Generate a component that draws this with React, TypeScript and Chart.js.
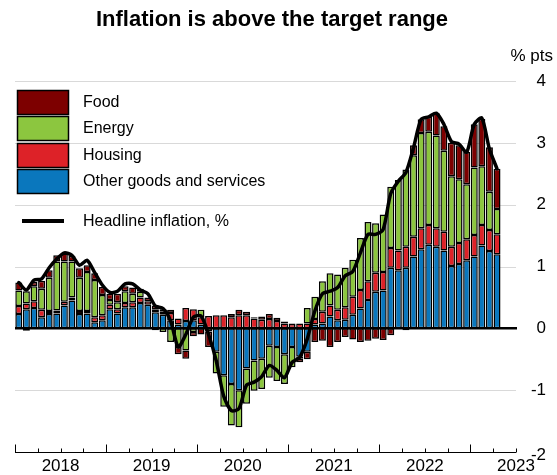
import { useEffect, useRef } from "react";
import { Chart, registerables } from "chart.js";

Chart.register(...registerables);

// Monthly observations, Jan 2018 – Apr 2023 (axis runs to Jun 2023)
const axisYears = [2018, 2019, 2020, 2021, 2022, 2023];
const yearLabels = ["2018", "2019", "2020", "2021", "2022", "2023"];
const yTickValues = [4, 3, 2, 1, 0, -1, -2];
const yTickLabels = ["4", "3", "2", "1", "0", "-1", "-2"];

const otherGoods = [
  0.23, 0.31, 0.33, 0.18, 0.23, 0.24, 0.37, 0.45, 0.23, 0.24, 0.10, 0.13,
  0.31, 0.24, 0.34, 0.34, 0.41, 0.38, 0.26, 0.22, 0.13, 0.06, 0.12, 0.13,
  0.06, 0.0, -0.38, -0.76, -0.9, -1.0, -0.65, -0.52, -0.49, -0.28, -0.3, -0.42,
  -0.3, -0.46, -0.38, 0.06, 0.08, 0.19, 0.13, 0.14, 0.22, 0.32, 0.46, 0.59,
  0.61, 0.98, 0.94, 0.98, 1.16, 1.28, 1.35, 1.32, 1.26, 1.01, 1.04, 1.1,
  1.16, 1.34, 1.25, 1.2,
];
const housing = [
  0.13, 0.09, 0.11, 0.12, 0.05, 0.05, 0.06, 0.05, 0.05, 0.04, 0.08, 0.08,
  0.07, 0.07, 0.07, 0.08, 0.09, 0.06, 0.05, 0.05, 0.12, 0.10, 0.21, 0.18,
  0.12, 0.20, 0.21, 0.21, 0.18, 0.21, 0.21, 0.16, 0.14, 0.15, 0.12, 0.08,
  0.07, 0.08, 0.08, 0.09, 0.19, 0.18, 0.17, 0.2, 0.29, 0.3, 0.3, 0.31,
  0.3, 0.32, 0.32, 0.34, 0.32, 0.34, 0.32, 0.3, 0.3, 0.31, 0.34, 0.34,
  0.35, 0.33, 0.34, 0.32,
];
const energy = [
  0.25, 0.2, 0.24, 0.34, 0.54, 0.79, 0.65, 0.58, 0.54, 0.63, 0.60, 0.33,
  0.08, 0.11, 0.19, 0.14, 0.09, 0.0, -0.03, -0.06, -0.22, -0.30, -0.36, -0.06,
  0.12, -0.05, -0.35, -0.51, -0.67, -0.6, -0.57, -0.49, -0.49, -0.52, -0.55, -0.48,
  -0.33, -0.03, 0.25, 0.36, 0.49, 0.52, 0.57, 0.64, 0.6, 0.84, 0.96, 0.8,
  0.93, 0.99, 1.14, 1.25, 1.32, 1.54, 1.51, 1.5, 1.31, 1.14, 1.03, 0.89,
  1.09, 0.95, 0.62, 0.41,
];
const food = [
  0.13, -0.04, 0.07, 0.13, 0.12, 0.10, 0.13, 0.09, 0.15, 0.11, 0.11, 0.13,
  0.1, 0.14, 0.08, 0.1, 0.05, 0.06, 0.06, 0.04, 0.05, -0.12, -0.13, -0.07,
  -0.1, -0.25, 0.0, 0.0, 0.05, 0.09, 0.06, 0.02, 0.05, 0.08, 0.05, 0.03,
  0.01, -0.06, -0.12, -0.22, -0.2, -0.3, -0.22, -0.14, -0.18, -0.22, -0.2, -0.17,
  -0.19, -0.11, 0.0, -0.03, 0.16, 0.22, 0.24, 0.36, 0.4, 0.54, 0.55, 0.52,
  0.7, 0.77, 0.72, 0.65,
];
const headline = [
  0.74, 0.62, 0.78, 0.8, 0.98, 1.12, 1.22, 1.18, 1.02, 1.1, 0.9, 0.7,
  0.58, 0.6, 0.72, 0.72, 0.62, 0.56, 0.36, 0.32, 0.12, -0.3, -0.1, 0.18,
  0.2, -0.1, -0.52, -1.1, -1.33, -1.3, -0.92, -0.87, -0.78, -0.6, -0.68, -0.8,
  -0.55, -0.47, -0.17, 0.28, 0.56, 0.6, 0.66, 0.85, 0.92, 1.22, 1.52, 1.52,
  1.6, 2.18, 2.38, 2.52, 2.92, 3.38, 3.42, 3.48, 3.3, 3.02, 2.98, 2.85,
  3.3, 3.4, 2.9, 2.58,
];

const COLORS = {
  food: "#7d0000",
  energy: "#8cc63f",
  housing: "#dd2228",
  other: "#0a77bd",
};

const legendItems = [
  { label: "Food", color: COLORS.food },
  { label: "Energy", color: COLORS.energy },
  { label: "Housing", color: COLORS.housing },
  { label: "Other goods and services", color: COLORS.other },
];

const monthLabels: string[] = [];
for (const y of axisYears) {
  for (let m = 1; m <= 12; m++) {
    if (y === 2023 && m > 6) break;
    monthLabels.push(`${y}-${String(m).padStart(2, "0")}`);
  }
}

const FONT = '"Liberation Sans", Arial, sans-serif';

const decorPlugin = {
  id: "decor",
  beforeDatasetsDraw(chart: any) {
    const { ctx, chartArea: a, scales } = chart;
    const y = scales.y;
    ctx.save();
    ctx.strokeStyle = "#d9d9d9";
    ctx.lineWidth = 1;
    for (const v of yTickValues) {
      if (v === 0 || v === -2) continue;
      const py = Math.round(y.getPixelForValue(v)) + 0.5;
      ctx.beginPath();
      ctx.moveTo(a.left, py);
      ctx.lineTo(a.right, py);
      ctx.stroke();
    }
    ctx.restore();
  },
  afterDatasetsDraw(chart: any) {
    const { ctx, chartArea: a, scales } = chart;
    const y = scales.y;
    const x = scales.x;
    ctx.save();
    // zero line
    ctx.strokeStyle = "#000";
    ctx.lineWidth = 2.5;
    const zy = y.getPixelForValue(0);
    ctx.beginPath();
    ctx.moveTo(a.left, zy);
    ctx.lineTo(a.right + 1, zy);
    ctx.stroke();

    // bottom axis
    const by = Math.round(y.getPixelForValue(-2)) + 0.5;
    ctx.lineWidth = 1;
    ctx.beginPath();
    ctx.moveTo(a.left, by);
    ctx.lineTo(a.right, by);
    ctx.stroke();
    const step = x.getPixelForValue(1) - x.getPixelForValue(0);
    const left = x.getPixelForValue(0) - step / 2;
    const n = monthLabels.length;
    for (let i = 0; i <= n; i += 3) {
      const px = Math.round(left + i * step) + 0.5;
      const h = i % 12 === 0 ? 8 : 4;
      ctx.beginPath();
      ctx.moveTo(px, by);
      ctx.lineTo(px, by - h);
      ctx.stroke();
    }
    ctx.fillStyle = "#000";
    ctx.font = `17px ${FONT}`;
    ctx.textAlign = "center";
    ctx.textBaseline = "middle";
    yearLabels.forEach((lab, k) => {
      const px = left + (k * 12 + 6) * step;
      ctx.fillText(lab, px, 466);
    });

    // right axis labels
    ctx.textAlign = "right";
    yTickValues.forEach((v, k) => {
      const py = y.getPixelForValue(v);
      ctx.fillText(yTickLabels[k], 546, v === -2 ? py + 3 : py);
    });
    ctx.fillText("% pts", 553, 56);

    // title
    ctx.font = `bold 22px ${FONT}`;
    ctx.textAlign = "center";
    ctx.fillText("Inflation is above the target range", 272, 20);

    // legend
    ctx.font = `16px ${FONT}`;
    ctx.textAlign = "left";
    const boxTops = [90, 116, 143, 169];
    legendItems.forEach((it, k) => {
      const t = boxTops[k];
      ctx.fillStyle = it.color;
      ctx.fillRect(17, t, 52, 25);
      ctx.strokeStyle = "#000";
      ctx.lineWidth = 1.5;
      ctx.strokeRect(17.5, t + 0.5, 51, 24);
      ctx.fillStyle = "#000";
      ctx.fillText(it.label, 83, t + 13);
    });
    ctx.strokeStyle = "#000";
    ctx.lineWidth = 4;
    ctx.beginPath();
    ctx.moveTo(22, 221);
    ctx.lineTo(64, 221);
    ctx.stroke();
    ctx.fillText("Headline inflation, %", 83, 222);
    ctx.restore();
  },
};

export default function App() {
  const ref = useRef<HTMLCanvasElement | null>(null);
  useEffect(() => {
    document.body.style.margin = "0";
    const canvas = ref.current;
    if (!canvas) return;
    const barBase = {
      type: "bar" as const,
      borderColor: "#000",
      borderWidth: 1.5,
      borderSkipped: false,
      barPercentage: 0.92,
      categoryPercentage: 1,
      stack: "contrib",
      yAxisID: "y",
      order: 2,
    };
    const chart = new Chart(canvas, {
      type: "bar",
      data: {
        labels: monthLabels,
        datasets: [
          { ...barBase, label: "Other goods and services", data: otherGoods, backgroundColor: COLORS.other },
          { ...barBase, label: "Housing", data: housing, backgroundColor: COLORS.housing },
          { ...barBase, label: "Energy", data: energy, backgroundColor: COLORS.energy },
          { ...barBase, label: "Food", data: food, backgroundColor: COLORS.food },
          {
            type: "line" as const,
            label: "Headline inflation, %",
            data: headline,
            borderColor: "#000",
            borderWidth: 3.5,
            pointRadius: 0,
            tension: 0.25,
            borderJoinStyle: "round",
            borderCapStyle: "round",
            yAxisID: "y2",
            order: 0,
          } as any,
        ],
      },
      options: {
        animation: false,
        responsive: false,
        maintainAspectRatio: false,
        layout: { padding: { left: 15, right: 41, top: 81, bottom: 23 } },
        plugins: { legend: { display: false }, title: { display: false }, tooltip: { enabled: false } },
        scales: {
          x: { display: false, stacked: true, offset: true },
          y: { display: false, stacked: true, min: -2, max: 4 },
          y2: { display: false, stacked: false, min: -2, max: 4 },
        },
      },
      plugins: [decorPlugin],
    });
    return () => chart.destroy();
  }, []);
  return (
    <div style={{ width: 557, height: 475 }}>
      <canvas ref={ref} width={557} height={475} style={{ display: "block" }} />
    </div>
  );
}
